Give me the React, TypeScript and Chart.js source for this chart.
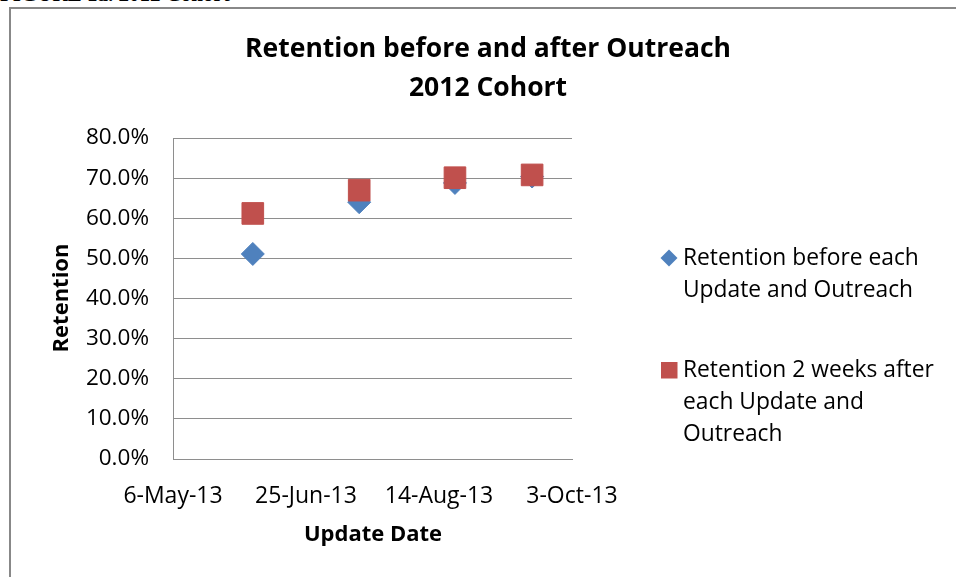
import React, { useEffect, useRef } from "react";
import { Chart, registerables } from "chart.js";

Chart.register(...registerables);

// ---- data ----
const updateDates = ["2013-06-05", "2013-07-15", "2013-08-20", "2013-09-18"];
const retentionBefore = [51.1, 64.0, 68.8, 70.4];
const retentionAfter = [61.2, 67.0, 70.1, 70.8];
const xTickDates = ["2013-05-06", "2013-06-25", "2013-08-14", "2013-10-03"];
const yTickValues = [0, 10, 20, 30, 40, 50, 60, 70, 80];
const titleLines = ["Retention before and after Outreach", "2012 Cohort"];
const xAxisTitle = "Update Date";
const yAxisTitle = "Retention";
const seriesNames = ["Retention before each Update and Outreach", "Retention 2 weeks after each Update and Outreach"];
const legendLines = [
  ["Retention before each", "Update and Outreach"],
  ["Retention 2 weeks after", "each Update and", "Outreach"],
];
const figureCaption = "FIGURE 1a. 2012 Cohort";

const MONTHS = ["Jan", "Feb", "Mar", "Apr", "May", "Jun", "Jul", "Aug", "Sep", "Oct", "Nov", "Dec"];
const DAY = 86400000;
const toDay = (s: string) => {
  const [y, m, d] = s.split("-").map(Number);
  return Date.UTC(y, m - 1, d) / DAY;
};
const fmtDay = (v: number) => {
  const dt = new Date(v * DAY);
  return `${dt.getUTCDate()}-${MONTHS[dt.getUTCMonth()]}-${String(dt.getUTCFullYear() % 100).padStart(2, "0")}`;
};

const BLUE = "#4F81BD";
const RED = "#C0504D";
const FONT = "'Open Sans', sans-serif";

const decorPlugin = {
  id: "decor",
  afterDraw(chart: any) {
    const ctx = chart.ctx as CanvasRenderingContext2D;
    ctx.save();
    ctx.fillStyle = "#000";
    ctx.textAlign = "center";
    ctx.textBaseline = "middle";
    // title
    ctx.font = `bold 26.5px ${FONT}`;
    ctx.fillText(titleLines[0], 488, 49);
    ctx.fillText(titleLines[1], 488, 88);
    // axis titles
    ctx.font = `bold 22px ${FONT}`;
    ctx.fillText(xAxisTitle, 373, 535);
    ctx.save();
    ctx.translate(62, 298);
    ctx.rotate(-Math.PI / 2);
    ctx.fillText(yAxisTitle, 0, 0);
    ctx.restore();
    // legend
    ctx.textAlign = "left";
    ctx.font = `22.8px ${FONT}`;
    ctx.fillStyle = "#000";
    const l1y = [259, 291];
    legendLines[0].forEach((t, i) => ctx.fillText(t, 683, l1y[i]));
    const l2y = [371, 403, 435];
    legendLines[1].forEach((t, i) => ctx.fillText(t, 683, l2y[i]));
    // legend markers
    ctx.fillStyle = BLUE;
    ctx.beginPath();
    ctx.moveTo(669 - 8.5, 258);
    ctx.lineTo(669, 258 - 8.5);
    ctx.lineTo(669 + 8.5, 258);
    ctx.lineTo(669, 258 + 8.5);
    ctx.closePath();
    ctx.fill();
    ctx.fillStyle = RED;
    ctx.fillRect(661, 362, 16.5, 16.5);
    ctx.restore();
  },
};

export default function App() {
  const ref = useRef<HTMLCanvasElement>(null);
  useEffect(() => {
    if (!ref.current) return;
    const chart = new Chart(ref.current, {
      type: "scatter",
      data: {
        datasets: [
          {
            label: seriesNames[0],
            data: updateDates.map((d, i) => ({ x: toDay(d), y: retentionBefore[i] })),
            pointStyle: "rectRot",
            pointRadius: 11.5,
            pointHoverRadius: 11.5,
            backgroundColor: BLUE,
            borderColor: BLUE,
            borderWidth: 1,
            order: 1,
          },
          {
            label: seriesNames[1],
            data: updateDates.map((d, i) => ({ x: toDay(d), y: retentionAfter[i] })),
            pointStyle: "rect",
            pointRadius: 15.3,
            pointHoverRadius: 15.3,
            backgroundColor: RED,
            borderColor: RED,
            borderWidth: 1,
            order: 0,
          },
        ],
      },
      options: {
        responsive: false,
        animation: false,
        devicePixelRatio: 1,
        events: [],
        layout: { padding: { top: 138, left: 0, right: 384, bottom: 0 } },
        plugins: {
          legend: { display: false },
          title: { display: false },
          tooltip: { enabled: false },
        },
        scales: {
          x: {
            type: "linear",
            min: toDay(xTickDates[0]),
            max: toDay(xTickDates[xTickDates.length - 1]),
            afterBuildTicks: (s: any) => {
              s.ticks = xTickDates.map((d) => ({ value: toDay(d) }));
            },
            afterFit: (s: any) => {
              s.height = 118;
            },
            grid: { display: false, drawTicks: false },
            border: { display: true, color: "#8e8e8e", width: 1 },
            ticks: {
              autoSkip: false,
              maxRotation: 0,
              padding: 24,
              color: "#000",
              font: { family: FONT, size: 23 },
              callback: (v: any) => fmtDay(Number(v)),
            },
          },
          y: {
            min: 0,
            max: 80,
            afterBuildTicks: (s: any) => {
              s.ticks = yTickValues.map((v) => ({ value: v }));
            },
            afterFit: (s: any) => {
              s.width = 173;
            },
            grid: { color: "#8e8e8e", lineWidth: 1, drawTicks: false },
            border: { display: true, color: "#8e8e8e", width: 1 },
            ticks: {
              padding: 24,
              color: "#000",
              font: { family: FONT, size: 22.5 },
              callback: (v: any) => `${Number(v).toFixed(1)}%`,
            },
          },
        },
      },
      plugins: [decorPlugin],
    } as any);
    return () => chart.destroy();
  }, []);

  return (
    <div style={{ position: "absolute", left: 0, top: 0, width: 956, height: 577, overflow: "hidden", background: "#fff" }}>
      <div
        style={{
          position: "absolute",
          left: 0,
          top: -16,
          font: "bold 21px 'Liberation Serif', serif",
          lineHeight: "21px",
          whiteSpace: "nowrap",
          color: "#000",
        }}
      >
        {figureCaption}
      </div>
      <div
        style={{
          position: "absolute",
          left: 9,
          top: 7,
          width: 956,
          height: 600,
          borderLeft: "2px solid #888",
          borderTop: "2px solid #888",
        }}
      />
      <canvas ref={ref} width={956} height={577} style={{ position: "absolute", left: 0, top: 0, display: "block" }} />
    </div>
  );
}
